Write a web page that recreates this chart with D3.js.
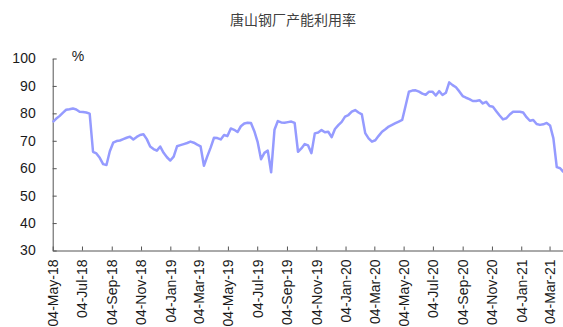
<!DOCTYPE html>
<html>
<head>
<meta charset="utf-8">
<script src="https://cdn.jsdelivr.net/npm/d3@7"></script>
<style>
  html, body { margin: 0; padding: 0; background: #fff; }
  svg { display: block; }
</style>
</head>
<body>
<svg id="chart" width="563" height="327"></svg>
<script>
// 唐山钢厂产能利用率 (weekly, %)
const title = "唐山钢厂产能利用率";
const unitLabel = "%";
const firstWeek = "2018-05-04";
const utilization = [
  76.8, 78.0, 79.0, 80.2, 81.3, 81.5, 81.8, 81.4, 80.6, 80.5,
  80.3, 79.9, 66.0, 65.4, 63.8, 61.5, 61.2, 66.2, 69.3, 69.9,
  70.1, 70.6, 71.1, 71.5, 70.5, 71.4, 72.1, 72.4, 70.6, 67.9,
  67.0, 66.4, 67.9, 65.6, 64.0, 62.8, 64.2, 68.0, 68.4, 68.8,
  69.2, 69.7, 69.3, 68.6, 68.0, 60.9, 64.3, 67.5, 71.1, 71.0,
  70.5, 72.1, 71.7, 74.5, 74.0, 73.2, 75.3, 76.3, 76.6, 76.5,
  73.5, 69.5, 63.3, 65.6, 66.4, 58.5, 74.0, 77.2, 76.7, 76.6,
  76.8, 77.0, 76.5, 66.0, 67.2, 68.8, 68.3, 65.5, 72.7, 73.0,
  73.9, 73.1, 73.3, 71.3, 74.3, 75.7, 76.9, 78.8, 79.4, 80.6,
  81.2, 80.3, 79.6, 72.8, 70.9, 69.7, 70.2, 71.8, 73.3, 74.2,
  75.2, 75.8, 76.4, 77.0, 77.6, 82.7, 87.9, 88.3, 88.4, 87.9,
  87.2, 86.8, 87.9, 87.9, 86.5, 88.1, 86.7, 87.5, 91.3, 90.3,
  89.5, 88.0, 86.3, 85.7, 85.2, 84.5, 84.5, 84.8, 83.6, 84.2,
  82.7, 82.4, 80.8, 79.2, 77.8, 78.2, 79.6, 80.6, 80.6, 80.6,
  80.3, 78.6, 77.3, 77.6, 76.1, 75.8, 76.0, 76.5, 75.6, 70.9,
  60.4, 60.0, 58.6
];
const xTickDates = [
  "2018-05-04", "2018-07-04", "2018-09-04", "2018-11-04", "2019-01-04",
  "2019-03-04", "2019-05-04", "2019-07-04", "2019-09-04", "2019-11-04",
  "2020-01-04", "2020-03-04", "2020-05-04", "2020-07-04", "2020-09-04",
  "2020-11-04", "2021-01-04", "2021-03-04"
];
const xTickLabels = [
  "04-May-18", "04-Jul-18", "04-Sep-18", "04-Nov-18", "04-Jan-19",
  "04-Mar-19", "04-May-19", "04-Jul-19", "04-Sep-19", "04-Nov-19",
  "04-Jan-20", "04-Mar-20", "04-May-20", "04-Jul-20", "04-Sep-20",
  "04-Nov-20", "04-Jan-21", "04-Mar-21"
];
const yTicks = [30, 40, 50, 60, 70, 80, 90, 100];

const parse = d3.utcParse("%Y-%m-%d");
const start = parse(firstWeek);
const data = utilization.map((v, i) => ({ date: d3.utcDay.offset(start, 7 * i), value: v }));
const tickDates = xTickDates.map(parse);

const svg = d3.select("#chart");
const plotLeft = 52.7, plotRight = 563, plotTop = 58.5, plotBottom = 250.5;

const x = d3.scaleUtc()
  .domain([parse("2018-05-04"), parse("2021-04-01")])
  .range([plotLeft, plotRight]);
const y = d3.scaleLinear().domain([30, 100]).range([plotBottom, plotTop]);

const font = "'Liberation Sans', Arial, sans-serif";

// title
svg.append("text")
  .attr("x", 293).attr("y", 20).attr("dy", "0.35em")
  .attr("text-anchor", "middle")
  .attr("font-family", "'Noto Sans CJK SC', sans-serif")
  .attr("font-size", 14).attr("fill", "#404040")
  .text(title);

// y axis
const yAxis = svg.append("g")
  .attr("transform", `translate(${plotLeft},0)`)
  .call(d3.axisLeft(y).tickValues(yTicks).tickSize(-4).tickPadding(17).tickSizeOuter(0));
yAxis.select(".domain").attr("stroke", "#555");
yAxis.selectAll(".tick line").attr("stroke", "#555");
yAxis.selectAll(".tick text")
  .attr("font-family", font).attr("font-size", 14).attr("fill", "#1a1a1a");

// x axis with rotated date labels
const xAxis = svg.append("g")
  .attr("transform", `translate(0,${plotBottom})`)
  .call(d3.axisBottom(x).tickValues(tickDates).tickSize(-4).tickSizeOuter(0)
    .tickFormat((d, i) => xTickLabels[i]));
xAxis.select(".domain").attr("stroke", "#555");
xAxis.selectAll(".tick line").attr("stroke", "#555");
xAxis.selectAll(".tick text")
  .attr("font-family", font).attr("font-size", 14).attr("fill", "#1a1a1a")
  .attr("text-anchor", "end")
  .attr("transform", "rotate(-90)")
  .attr("x", -9).attr("y", 0).attr("dy", "0.35em");

// unit label
svg.append("text")
  .attr("x", 78).attr("y", 56).attr("dy", "0.35em")
  .attr("text-anchor", "middle")
  .attr("font-family", font).attr("font-size", 14).attr("fill", "#1a1a1a")
  .text(unitLabel);

// series line
svg.append("path")
  .datum(data)
  .attr("fill", "none")
  .attr("stroke", "#959bff")
  .attr("stroke-width", 2.5)
  .attr("stroke-linejoin", "round")
  .attr("d", d3.line().x(d => x(d.date)).y(d => y(d.value)));
</script>
</body>
</html>
